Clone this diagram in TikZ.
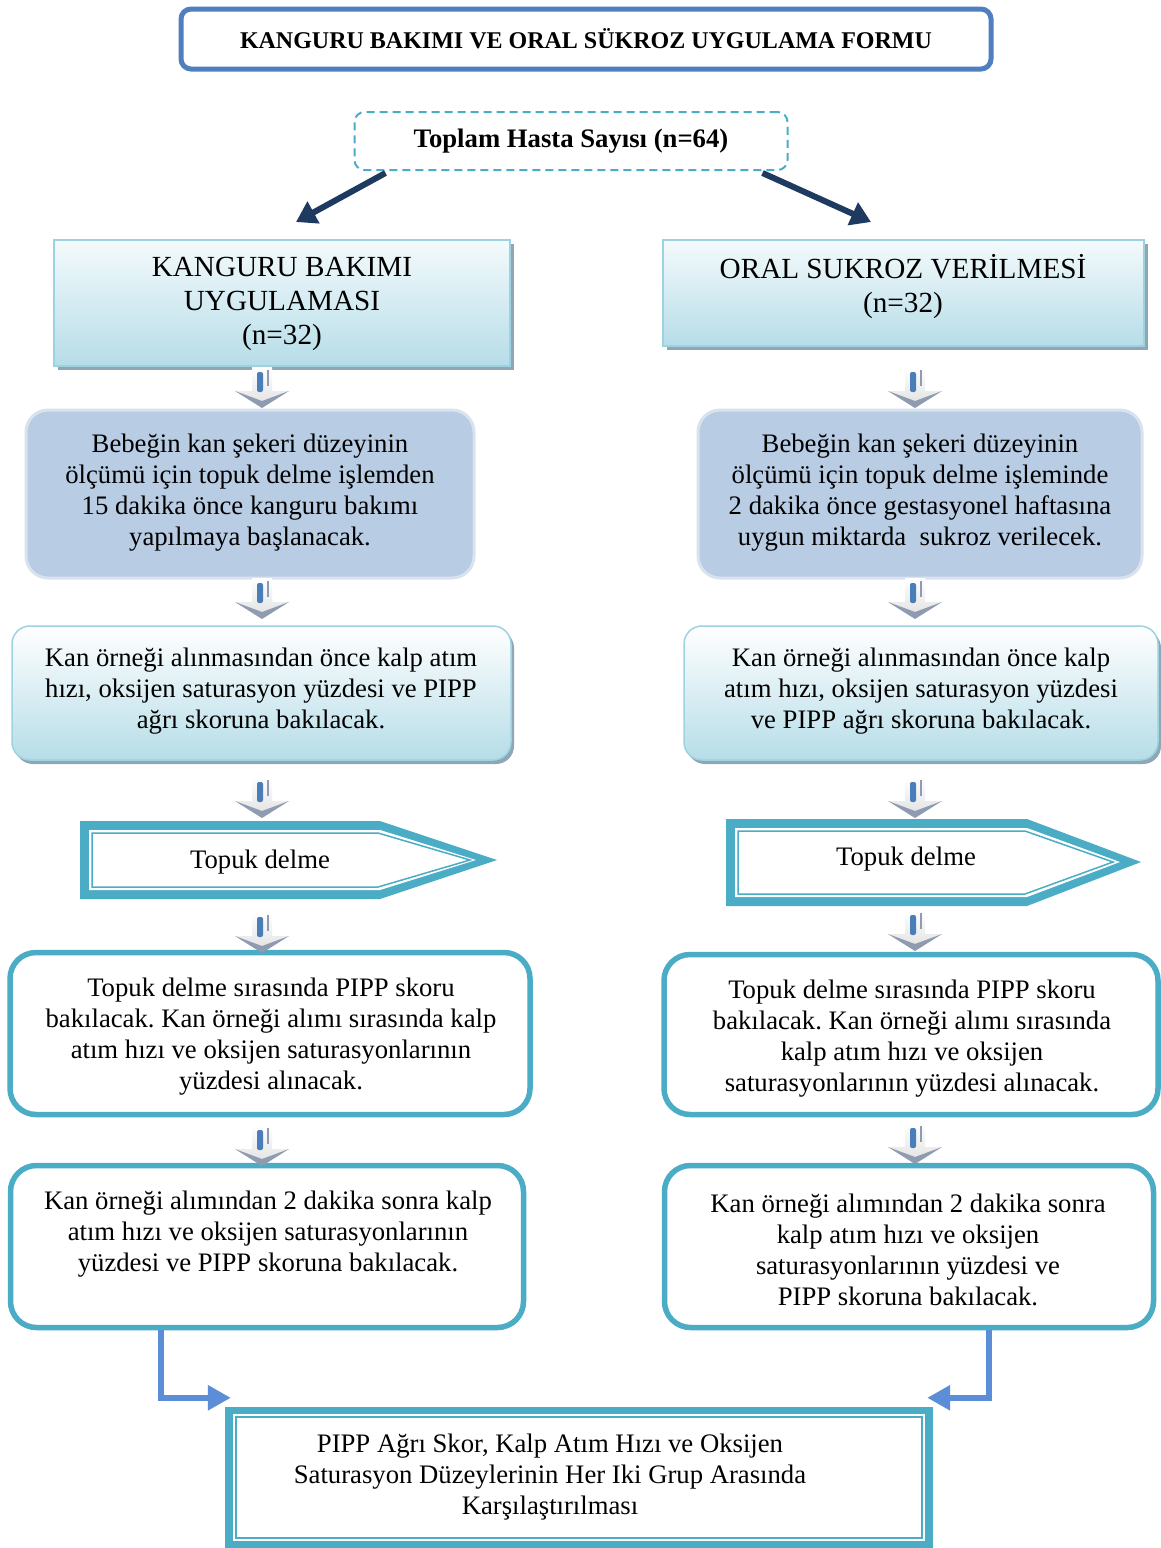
\documentclass[tikz,border=0pt]{standalone}
\usepackage{fontspec}
\setmainfont{Liberation Serif}
\frenchspacing
\usetikzlibrary{shadows,arrows.meta,calc}
\definecolor{titleblue}{HTML}{4F7FBE}
\definecolor{tealc}{HTML}{4BACC6}
\definecolor{darknavy}{HTML}{1F3A60}
\definecolor{lightblue}{HTML}{B6DDE8}
\definecolor{paleblue}{HTML}{F4FAFC}
\definecolor{edgeblue}{HTML}{9DD2E0}
\definecolor{steelfill}{HTML}{B8CCE4}
\definecolor{steelglow}{HTML}{D9E3F0}
\definecolor{cornflow}{HTML}{5B8ED6}
\definecolor{shadowgray}{HTML}{8FA6B5}
\definecolor{arrowgray}{HTML}{8E9BB0}
\definecolor{barblue}{HTML}{4A7EBB}
\newcommand\bodyfont{\fontsize{26.7}{31}\selectfont}
\newcommand\headfont{\fontsize{29.2}{34}\selectfont}
\newcommand\titlefont{\fontsize{24}{28}\selectfont\bfseries}
\newcommand\totalfont{\fontsize{26.7}{30}\selectfont\bfseries}
\tikzset{
  titlebox/.style={draw=titleblue, line width=5pt, rounded corners=10pt, fill=white},
  dashbox/.style={draw=tealc, line width=2pt, dash pattern=on 8pt off 5pt, rounded corners=10pt},
  gradbox/.style={draw=edgeblue, line width=2pt, top color=paleblue, bottom color=lightblue,
    drop shadow={shadow xshift=4pt, shadow yshift=-4pt, fill=shadowgray, opacity=1}},
  steelbox/.style={draw=steelglow, line width=3pt, fill=steelfill, rounded corners=22pt},
  roundgrad/.style={draw=edgeblue, line width=1.5pt, rounded corners=18pt, top color=white, bottom color=lightblue,
    drop shadow={shadow xshift=3pt, shadow yshift=-4pt, fill=shadowgray, opacity=1}},
  tealbox/.style={draw=tealc, line width=5.5pt, rounded corners=26pt, fill=white},
  txt/.style={align=center, inner sep=0pt, font=\bodyfont},
  darkarr/.style={draw=darknavy, line width=6pt, -{Triangle[length=20pt,width=24pt]}},
  bconn/.style={draw=cornflow, line width=6.5pt, -{Triangle[length=23pt,width=24pt]}},
  blockarrow/.pic={
    \shade[top color=white, bottom color=black!12] (-10,0) -- (10,0) -- (10,24) -- (27,24) -- (0,40) -- (-27,24) -- (-10,24) -- cycle;
    \fill[arrowgray] (-27,24) -- (0,34) -- (27,24) -- (0,41) -- cycle;
    \fill[barblue, rounded corners=2pt] (-5,5) rectangle (1,25);
    \draw[arrowgray, line width=1.2pt] (6,3) -- (6,19);
  }
}
\begin{document}
\begin{tikzpicture}[x=1pt, y=-1pt]
\useasboundingbox (0,0) rectangle (1160,1548);
\fill[white] (0,0) rectangle (1160,1548);

% title
\node[titlebox, minimum width=810, minimum height=60] (title) at (586,39) {\titlefont KANGURU BAKIMI VE ORAL SÜKROZ UYGULAMA FORMU};

% total
\node[dashbox, minimum width=433, minimum height=58] (total) at (571,141) {\totalfont Toplam Hasta Sayısı (n=64)};
\coordinate (kl) at (296,222);
\coordinate (kr) at (871,222);
\draw[darkarr] ($(total.south west)+(32,2)$) -- (kl);
\draw[darkarr] ($(total.south east)+(-26,2)$) -- (kr);

% level 1
\node[gradbox, minimum width=456, minimum height=126] (L1) at (282,303) {};
\node[txt, font=\headfont] (L1t) at (282,304) {KANGURU BAKIMI\\UYGULAMASI\\(n=32)};
\node[gradbox, minimum width=481, minimum height=106] (R1) at (903.5,293) {};
\node[txt, font=\headfont] (R1t) at (903,287) {ORAL SUKROZ VERİLMESİ\\(n=32)};

% level 2
\node[steelbox, minimum width=448, minimum height=168] (L2) at (250,494) {};
\node[txt] (L2t) at (250,492.5) {Bebeğin kan şekeri düzeyinin\\ölçümü için topuk delme işlemden\\15 dakika önce kanguru bakımı\\yapılmaya başlanacak.};
\node[steelbox, minimum width=444, minimum height=168] (R2) at (920,494) {};
\node[txt] (R2t) at (920,492.5) {Bebeğin kan şekeri düzeyinin\\ölçümü için topuk delme işleminde\\2 dakika önce gestasyonel haftasına\\uygun miktarda\ \ sukroz verilecek.};

% level 3
\node[roundgrad, minimum width=499, minimum height=134] (L3) at (261.5,693) {};
\node[txt] (L3t) at (261,691.5) {Kan örneği alınmasından önce kalp atım\\hızı, oksijen saturasyon yüzdesi ve PIPP\\ağrı skoruna bakılacak.};
\node[roundgrad, minimum width=474, minimum height=134] (R3) at (921,693) {};
\node[txt] (R3t) at (921,691.5) {Kan örneği alınmasından önce kalp\\atım hızı, oksijen saturasyon yüzdesi\\ve PIPP ağrı skoruna bakılacak.};

% level 4: pentagons
\fill[tealc] (80,821) -- (380,821) -- (497,860) -- (380,899) -- (80,899) -- cycle;
\fill[white] (89,830) -- (380,830) -- (476,860) -- (380,890) -- (89,890) -- cycle;
\draw[tealc, line width=1.5pt] (92,833) -- (378,833) -- (470,860) -- (378,887) -- (92,887) -- cycle;
\node[txt] (LPt) at (260,862) {Topuk delme};
\fill[tealc] (726,819) -- (1027,819) -- (1141,862) -- (1027,906) -- (726,906) -- cycle;
\fill[white] (735,828) -- (1027,828) -- (1120,862) -- (1027,897) -- (735,897) -- cycle;
\draw[tealc, line width=1.5pt] (738,831) -- (1025,831) -- (1113,862) -- (1025,894) -- (738,894) -- cycle;
\node[txt] (RPt) at (906,859) {Topuk delme};

% level 5
\node[tealbox, minimum width=520, minimum height=162] (L4) at (270,1033.5) {};
\node[txt] (L4t) at (271,1037) {Topuk delme sırasında PIPP skoru\\bakılacak. Kan örneği alımı sırasında kalp\\atım hızı ve oksijen saturasyonlarının\\yüzdesi alınacak.};
\node[tealbox, minimum width=494, minimum height=160] (R4) at (911,1034.5) {};
\node[txt] (R4t) at (912,1038.5) {Topuk delme sırasında PIPP skoru\\bakılacak. Kan örneği alımı sırasında\\kalp atım hızı ve oksijen\\saturasyonlarının yüzdesi alınacak.};

% level 6
\node[tealbox, minimum width=513, minimum height=162] (L5) at (267,1246.5) {};
\node[txt] (L5t) at (268,1234.5) {Kan örneği alımından 2 dakika sonra kalp\\atım hızı ve oksijen saturasyonlarının\\yüzdesi ve PIPP skoruna bakılacak.};
\node[tealbox, minimum width=489, minimum height=162] (R5) at (909,1246.5) {};
\node[txt] (R5t) at (908,1249.5) {Kan örneği alımından 2 dakika sonra\\kalp atım hızı ve oksijen\\saturasyonlarının yüzdesi ve\\PIPP skoruna bakılacak.};

% bottom
\node[fill=tealc, minimum width=708, minimum height=142, inner sep=0pt] (B) at (579,1478) {};
\fill[white] (233,1414) rectangle (925,1541);
\draw[tealc, line width=1.5pt] (236,1417) rectangle (922,1538);
\node[txt] (Bt) at (550,1477.5) {PIPP Ağrı Skor, Kalp Atım Hızı ve Oksijen\\Saturasyon Düzeylerinin Her Iki Grup Arasında\\Karşılaştırılması};

\draw[bconn] ($(L5.south west)+(153,0)$) |- ($(B.north west)+(6,-9)$);
\draw[bconn] ($(R5.south west)+(327,0)$) |- ($(B.north east)+(-6,-9)$);

% block arrows
\foreach \y in {367,578,777,912,1125} { \pic at (262,\y) {blockarrow}; }
\foreach \y in {367,578,777,910,1123} { \pic at (915,\y) {blockarrow}; }
\end{tikzpicture}
\end{document}
